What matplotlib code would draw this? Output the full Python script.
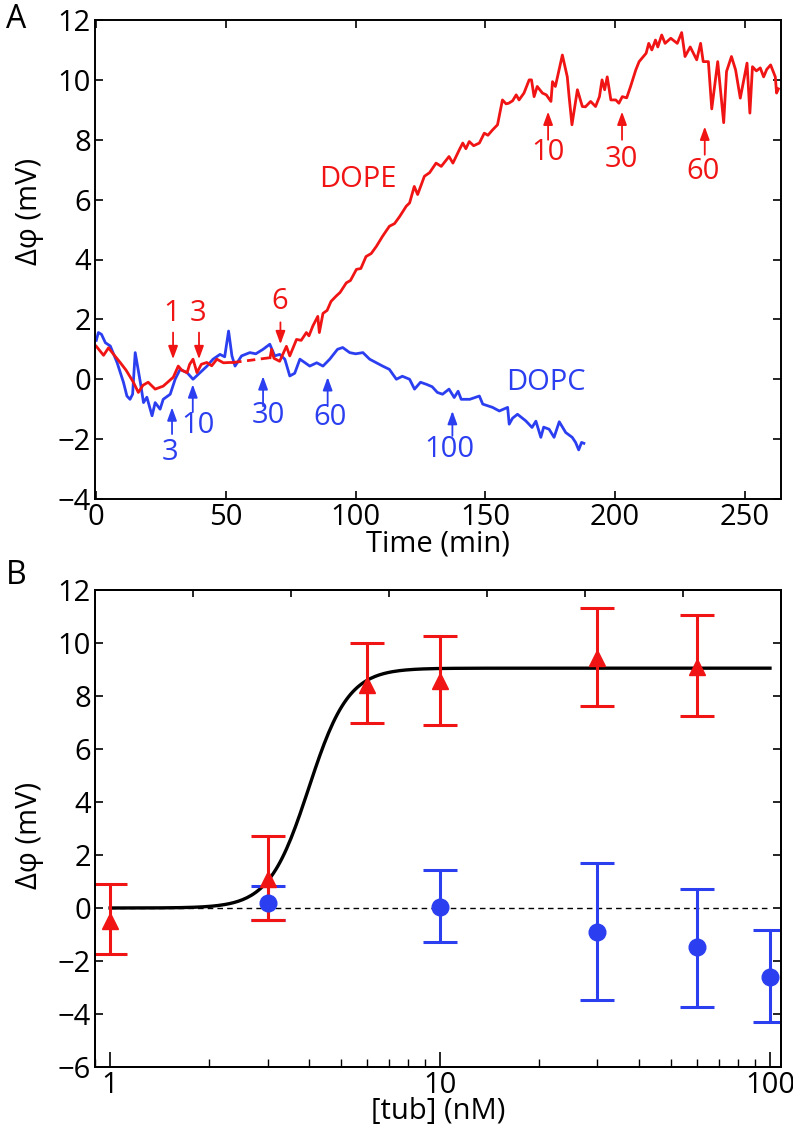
import matplotlib
matplotlib.use("Agg")
import matplotlib.pyplot as plt
import numpy as np
from matplotlib.ticker import FixedLocator, FixedFormatter, NullFormatter, LogLocator

plt.rcParams['font.family'] = ['Open Sans', 'DejaVu Sans']
plt.rcParams['font.size'] = 21

red = '#f01414'
blue = '#2b3ff0'

# ---- panel A : time traces ----
dope_t = [0, 2.8, 4.7, 6.5, 9.2, 11.5, 14.3, 16.2, 18, 20, 22.7, 25.8, 27.5, 29.7, 31.6, 33, 35, 36,
          37.3, 38.8, 40.5, 42.6, 44.5, 46.5, 49, 51.5, 52.8]
dope_v = [1.1, 0.8, 1.05, 0.85, 0.56, 0.3, -0.1, -0.44, -0.2, -0.1, -0.33, -0.23, -0.1, 0.07, 0.44, 0.3,
          0.22, 0.5, 0.67, 0.22, 0.5, 0.56, 0.45, 0.67, 0.55, 0.56, 0.56]
dope_gap_t = [52.8, 67.0]
dope_gap_v = [0.56, 0.72]
dope2_t = [67.0, 67.6, 68.5, 70.7, 72, 73.3, 74.6, 77.2, 79, 81, 82, 83.5, 85.4, 86, 87.4, 89, 90.5,
           92.5, 94, 96.4, 98, 100.3, 102, 104, 106, 108, 110.4, 113, 115, 117, 119.5, 120.8, 122.6,
           123.9, 126.5, 128.5, 131, 133, 136, 137.5, 140, 141.3, 142.5, 143.8, 145.5, 147.7, 149.6,
           151, 152.8, 154.7, 156.6, 158, 159, 160.5, 161.9, 163, 164.9, 166.9, 167.8, 168.8, 170, 172,
           173.5, 175.3, 175.9, 177, 179.7, 181.6, 182.3, 183.4, 185.5, 187.4, 188.6, 190.6, 192.5, 194,
           195, 196, 197, 198.4, 200.3, 201.5, 202.8, 204.5, 206, 208, 209.3, 212, 213, 214.2, 215.6,
           216.5, 218, 219.3, 221.5, 224, 225.7, 227, 229, 231.5, 233, 234, 236, 237.3, 239.6, 241.9,
           243, 244.9, 246.5, 248.3, 250.9, 252, 253, 254.5, 256, 257.3, 258.5, 260, 261.8, 262.3, 263]
dope2_v = [0.72, 1.0, 0.7, 0.6, 0.85, 1.1, 0.78, 1.33, 1.3, 1.56, 1.45, 1.78, 2.1, 1.56, 2.2, 2.3, 2.6,
           2.78, 2.9, 3.22, 3.3, 3.67, 3.7, 4.1, 4.2, 4.44, 4.78, 5.11, 5.2, 5.44, 5.78, 5.89, 6.44,
           6.17, 6.78, 6.9, 7.22, 7.11, 7.44, 7.22, 7.67, 7.89, 7.7, 7.94, 7.8, 7.89, 8.22,
           8.15, 8.33, 8.5, 9.33, 9.2, 9.22, 9.3, 9.5, 9.33, 9.56, 10.0, 10.0, 9.44, 9.78, 9.56,
           9.5, 9.28, 9.94, 9.78, 10.83, 10.1, 9.44, 8.5, 9.67, 9.11, 9.1, 9.28, 9.11, 9.44,
           10.0, 9.67, 10.1, 9.33, 9.33, 9.22, 9.44, 9.4, 9.78, 10.33, 10.61, 10.89, 11.22, 11.0, 11.33,
           11.1, 11.5, 11.22, 11.39, 11.22, 11.58, 10.78, 11.1, 10.67, 11.22, 10.61, 10.61, 9.03, 10.61, 8.57,
           10.28, 10.78, 10.33, 9.39, 10.56, 8.89, 10.44, 10.3, 10.4, 10.1, 10.35, 10.5, 10.1, 9.56, 9.7]

dopc_t = [0, 0.8, 2, 3.5, 5.4, 8, 10.5, 11.8, 13, 14, 15, 17, 18.2, 19.5, 21.5, 22.7, 24.6, 25.8, 28.5,
          30.4, 32.3, 35, 37.3, 40, 42.7, 45, 47.7, 49.5, 51, 52.3, 53.5, 56, 59.2, 61.5, 64.3, 66.9,
          68.8, 70.7, 72.7, 74.6, 76.5, 78.5, 80.5, 82.3, 85, 87.4, 90, 93, 95, 97.7, 100, 102.8, 105.4,
          108, 110.4, 113, 115.7, 118, 120.8, 122.7, 125, 127.3, 129.5, 131.5, 133.5, 136, 138, 139.5,
          140.7, 144, 147.7, 149, 152.8, 155.4, 158.6, 159.2, 160.5, 162.4, 165.6, 168, 169.5, 171.4,
          172.5, 174.6, 176.5, 178.5, 181, 183.5, 184.8, 186, 187.1, 188]
dopc_v = [1.3, 1.56, 1.5, 1.22, 1.11, 0.56, -0.11, -0.56, -0.67, -0.5, 0.89, -0.11, -0.78, -0.6, -1.22,
          -0.78, -1.0, -0.67, -0.5, 0.0, 0.33, 0.22, 0.0, 0.22, 0.44, 0.67, 0.83, 0.75, 1.61, 0.78, 0.44,
          0.78, 0.89, 0.85, 1.0, 1.17, 0.78, 0.83, 0.67, 0.11, 0.2, 0.67, 0.55, 0.44, 0.55, 0.44, 0.67,
          1.0, 1.06, 0.89, 0.85, 0.89, 0.67, 0.55, 0.44, 0.33, 0.0, 0.1, 0.0, -0.33, -0.1, -0.17, -0.25,
          -0.44, -0.5, -0.33, -0.61, -0.4, -0.67, -0.67, -0.56, -0.83, -0.94, -1.06, -0.94, -1.5, -1.3,
          -1.17, -1.39, -1.61, -1.4, -1.94, -1.6, -1.67, -1.94, -1.42, -1.78, -1.94, -2.11, -2.36,
          -2.11, -2.14]

# arrows: (time, tip, tail, label, label_time, label_value, colour)
arrows = [
    (29.6, 0.67, 1.56, '1', 29.2, 2.2, red),
    (39.6, 0.67, 1.56, '3', 39.3, 2.2, red),
    (71.0, 1.17, 1.9, '6', 70.7, 2.6, red),
    (29.2, -0.94, -1.83, '3', 28.5, -2.45, blue),
    (37.2, -0.17, -1.1, '10', 39.4, -1.56, blue),
    (64.3, 0.1, -0.9, '30', 66.3, -1.22, blue),
    (89.2, 0.07, -0.9, '60', 90.0, -1.28, blue),
    (137.3, -1.06, -1.89, '100', 136.2, -2.33, blue),
    (174.2, 8.94, 8.0, '10', 174.2, 7.56, red),
    (202.7, 8.94, 8.0, '30', 202.5, 7.33, red),
    (234.6, 8.44, 7.5, '60', 233.8, 6.94, red),
]

# ---- panel B : dose response ----
conc_pe = [1, 3, 6, 10, 30, 60]
dphi_pe = [-0.5, 1.1, 8.4, 8.55, 9.45, 9.1]
hi_pe = [0.9, 2.72, 10.0, 10.26, 11.33, 11.06]
lo_pe = [-1.75, -0.45, 6.97, 6.91, 7.62, 7.26]

conc_pc = [3, 10, 30, 60, 100]
dphi_pc = [0.2, 0.05, -0.89, -1.48, -2.6]
hi_pc = [0.83, 1.43, 1.7, 0.72, -0.83]
lo_pc = [-0.45, -1.3, -3.47, -3.72, -4.3]

# Hill fit parameters
fit_amp, fit_k, fit_n = 9.05, 4.0, 7.2

fig = plt.figure(figsize=(7.93, 11.38), dpi=100)
axA = fig.add_axes([95 / 793, 1 - 499 / 1138, 686 / 793, 479 / 1138])
axB = fig.add_axes([95 / 793, 1 - 1067 / 1138, 686 / 793, 477 / 1138])

lw = 2.0
axA.plot(dopc_t, dopc_v, color=blue, lw=lw)
axA.plot(dope_t, dope_v, color=red, lw=lw)
axA.plot(dope_gap_t, dope_gap_v, color=red, lw=lw, ls=(0, (3, 2)))
axA.plot(dope2_t, dope2_v, color=red, lw=lw)

for t, tip, tail, lab, lt, lv, c in arrows:
    axA.annotate('', xy=(t, tip), xytext=(t, tail),
                 arrowprops=dict(arrowstyle='-|>,head_length=0.6,head_width=0.22', color=c,
                                 lw=1.3, mutation_scale=13, shrinkA=0, shrinkB=0))
    axA.text(lt, lv, lab, color=c, ha='center', va='center')

axA.text(100.8, 6.67, 'DOPE', color=red, ha='center', va='center')
axA.text(173.5, -0.1, 'DOPC', color=blue, ha='center', va='center')

axA.set_xlim(-0.5, 264)
axA.set_ylim(-4, 12)
axA.set_xticks([0, 50, 100, 150, 200, 250])
axA.set_yticks(np.arange(-4, 13, 2))
axA.set_yticklabels(['\u22124', '\u22122', '0', '2', '4', '6', '8', '10', '12'])
axA.tick_params(direction='in', top=True, right=True, length=6, width=1.2, pad=3)
axA.set_xlabel('Time (min)', labelpad=-2)
axA.set_ylabel('\u0394\u03c6 (mV)')
axA.yaxis.set_label_coords(-0.075, 0.6)

# panel B
xfit = np.logspace(0, 2, 300)
yfit = fit_amp * xfit ** fit_n / (fit_k ** fit_n + xfit ** fit_n)
axB.plot([1, 100], [0, 0], color='black', lw=1.0, ls=(0, (4, 3)))
axB.plot(xfit, yfit, color='black', lw=2.4, zorder=3)

pe_err = [np.array(dphi_pe) - np.array(lo_pe), np.array(hi_pe) - np.array(dphi_pe)]
pc_err = [np.array(dphi_pc) - np.array(lo_pc), np.array(hi_pc) - np.array(dphi_pc)]
axB.errorbar(conc_pc, dphi_pc, yerr=pc_err, fmt='o', color=blue, ms=12, capsize=12,
             elinewidth=2.2, capthick=2.2, zorder=4)
axB.errorbar(conc_pe, dphi_pe, yerr=pe_err, fmt='^', color=red, ms=12, capsize=12,
             elinewidth=2.2, capthick=2.2, zorder=4)

axB.set_xscale('log')
axB.set_xlim(0.9, 108)
axB.set_ylim(-6, 12)
axB.xaxis.set_major_locator(FixedLocator([1, 10, 100]))
axB.xaxis.set_major_formatter(FixedFormatter(['1', '10', '100']))
axB.xaxis.set_minor_locator(LogLocator(base=10, subs=np.arange(2, 10)))
axB.xaxis.set_minor_formatter(NullFormatter())
axB.set_yticks(np.arange(-6, 13, 2))
axB.set_yticklabels(['\u22126', '\u22124', '\u22122', '0', '2', '4', '6', '8', '10', '12'])
axB.tick_params(axis='y', direction='in', right=True, length=6, width=1.2, pad=3)
axB.tick_params(axis='x', which='major', direction='in', top=False, length=11, width=1.2, pad=3)
axB.tick_params(axis='x', which='minor', direction='in', top=False, length=6, width=1.0)
axB.set_xlabel('[tub] (nM)', labelpad=-2)
axB.set_ylabel('\u0394\u03c6 (mV)')
axB.yaxis.set_label_coords(-0.075, 0.485)

axT = axB.twiny()
axT.set_xlim(0, 7)
axT.set_xticks(range(1, 7))
axT.tick_params(axis='x', direction='in', length=5, width=1.2, labeltop=False)

for ax in (axA, axB, axT):
    for s in ax.spines.values():
        s.set_linewidth(1.4)

fig.text(6 / 793, 1 - 20 / 1138, 'A', fontsize=23, va='center', ha='left')
fig.text(6 / 793, 1 - 575 / 1138, 'B', fontsize=23, va='center', ha='left')

fig.savefig('out.png', dpi=100)
